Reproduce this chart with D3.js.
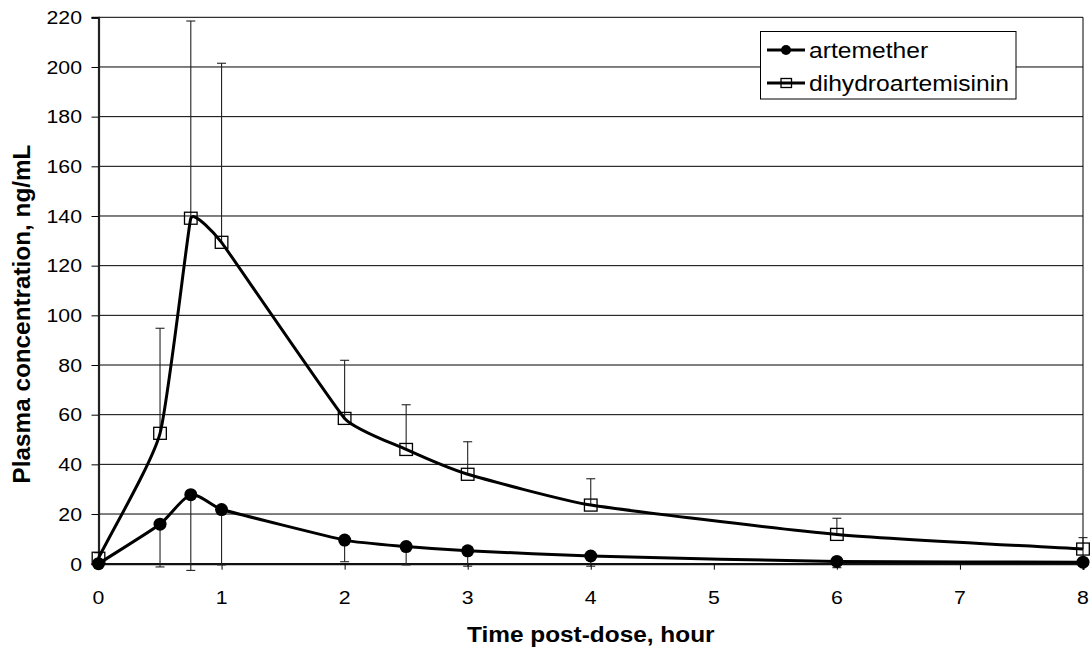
<!DOCTYPE html>
<html>
<head>
<meta charset="utf-8">
<script src="https://cdn.jsdelivr.net/npm/d3@7"></script>
<style>
  html, body { margin: 0; padding: 0; background: #fff; }
  svg { display: block; font-family: Arial, "Liberation Sans", sans-serif; }
</style>
</head>
<body>
<svg id="chart" width="1091" height="650"></svg>
<script>
const times = [0, 0.5, 0.75, 1, 2, 2.5, 3, 4, 6, 8];
const artemether = [0, 15.9, 27.8, 21.8, 9.5, 6.9, 5.2, 3.1, 0.9, 0.6];
const artemetherSD = [0, 17.2, 30.5, 22.3, 8.7, 7.4, 6.2, 4.1, 2.5, 1.5];
const dha = [2.2, 52.5, 139.1, 129.4, 58.5, 46.0, 36.0, 23.6, 11.8, 5.9];
const dhaSD = [2.2, 42.3, 79.4, 72.1, 23.4, 18.0, 13.1, 10.6, 6.5, 4.6];
const xTicks = [0, 1, 2, 3, 4, 5, 6, 7, 8];
const yTicks = [0, 20, 40, 60, 80, 100, 120, 140, 160, 180, 200, 220];
const seriesNames = ["artemether", "dihydroartemisinin"];
const xTitle = "Time post-dose, hour";
const yTitle = "Plasma concentration, ng/mL";

const svg = d3.select("#chart");
const L = 98.5, R = 1083, T = 17.3, B = 563.7;
const SX = 1.12;
const x = d3.scaleLinear().domain([0, 8]).range([L, R]);
const y = d3.scaleLinear().domain([0, 220]).range([B, T]);

// Excel-like smoothed line: tangent from neighbours, control length limited by shorter adjacent segment
const SMOOTH = 0.22;
function ExcelSmooth(context) { this._context = context; }
ExcelSmooth.prototype = {
  areaStart() {}, areaEnd() {},
  lineStart() { this._pts = []; },
  point(px, py) { this._pts.push([+px, +py]); },
  lineEnd() {
    const p = this._pts, c = this._context, n = p.length;
    if (!n) return;
    c.moveTo(p[0][0], p[0][1]);
    if (n < 3) { if (n === 2) c.lineTo(p[1][0], p[1][1]); return; }
    const seg = [];
    for (let i = 0; i < n - 1; i++) seg.push(Math.hypot(p[i + 1][0] - p[i][0], p[i + 1][1] - p[i][1]));
    const tan = p.map((pt, i) => {
      const a = p[Math.max(i - 1, 0)], b = p[Math.min(i + 1, n - 1)];
      const dx = b[0] - a[0], dy = b[1] - a[1], l = Math.hypot(dx, dy) || 1;
      const lens = [];
      if (i > 0) lens.push(seg[i - 1]);
      if (i < n - 1) lens.push(seg[i]);
      const k = Math.min(...lens) * SMOOTH;
      return [dx / l * k, dy / l * k];
    });
    for (let i = 0; i < n - 1; i++) {
      const a = p[i], b = p[i + 1];
      c.bezierCurveTo(a[0] + tan[i][0], a[1] + tan[i][1],
                      b[0] - tan[i + 1][0], b[1] - tan[i + 1][1], b[0], b[1]);
    }
  }
};
const excelCurve = ctx => new ExcelSmooth(ctx);

// gridlines
svg.append("g").selectAll("line").data(yTicks.filter(d => d > 0)).join("line")
  .attr("x1", L).attr("x2", R)
  .attr("y1", d => y(d)).attr("y2", d => y(d))
  .attr("stroke", "#000").attr("stroke-width", 1);

// right border
svg.append("line").attr("x1", R).attr("x2", R).attr("y1", T).attr("y2", B)
  .attr("stroke", "#000").attr("stroke-width", 1);

// axes
const yAxis = d3.axisLeft(y).tickValues(yTicks).tickSize(7).tickFormat("");
const gy = svg.append("g").attr("transform", `translate(${L},0)`).call(yAxis);
gy.select(".domain").attr("stroke", "#222").attr("stroke-width", 2.2);
gy.selectAll(".tick line").attr("stroke", "#000").attr("stroke-width", 1);

const xAxis = d3.axisBottom(x).tickValues(xTicks).tickSize(6).tickFormat("");
const gx = svg.append("g").attr("transform", `translate(0,${B})`).call(xAxis);
gx.select(".domain").attr("stroke", "#111").attr("stroke-width", 2.2);
gx.selectAll(".tick line").attr("stroke", "#000").attr("stroke-width", 1);

function stext(g, tx, ty, str, size, anchor, weight) {
  return g.append("text")
    .attr("transform", `translate(${tx},${ty}) scale(${SX},1)`)
    .attr("text-anchor", anchor)
    .attr("font-size", size)
    .attr("font-weight", weight || "normal")
    .attr("fill", "#000")
    .text(str);
}

// tick labels
const tl = svg.append("g");
yTicks.forEach(v => stext(tl, 82, y(v) + 6.8, String(v), 19, "end"));
xTicks.forEach(v => stext(tl, x(v), 603.5, String(v), 19, "middle"));

// axis titles
stext(svg, (L + R) / 2, 641.5, xTitle, 21.8, "middle", "bold");
svg.append("text")
  .attr("transform", `translate(30,314) rotate(-90)`)
  .attr("text-anchor", "middle").attr("font-size", 24.3).attr("font-weight", "bold")
  .text(yTitle);

// error bars
const cap = 4.5;
const eb = svg.append("g").attr("stroke", "#222").attr("stroke-width", 1.1);
times.forEach((t, i) => {
  const cx = x(t);
  const y0 = y(dha[i]), y1 = y(dha[i] + dhaSD[i]);
  eb.append("line").attr("x1", cx).attr("x2", cx).attr("y1", y0).attr("y2", y1);
  eb.append("line").attr("x1", cx - cap).attr("x2", cx + cap).attr("y1", y1).attr("y2", y1);
  if (artemetherSD[i] > 0) {
    const a0 = y(artemether[i]), a1 = y(artemether[i] - artemetherSD[i]);
    eb.append("line").attr("x1", cx).attr("x2", cx).attr("y1", a0).attr("y2", a1);
    eb.append("line").attr("x1", cx - cap).attr("x2", cx + cap).attr("y1", a1).attr("y2", a1);
  }
});

// lines
const line = d3.line().x(d => x(d[0])).y(d => y(d[1])).curve(excelCurve);
svg.append("path").datum(times.map((t, i) => [t, dha[i]]))
  .attr("d", line).attr("fill", "none").attr("stroke", "#000").attr("stroke-width", 3)
  .attr("stroke-linejoin", "round");
svg.append("path").datum(times.map((t, i) => [t, artemether[i]]))
  .attr("d", line).attr("fill", "none").attr("stroke", "#000").attr("stroke-width", 3)
  .attr("stroke-linejoin", "round");

// markers
svg.append("g").selectAll("rect").data(times.map((t, i) => [t, dha[i]])).join("rect")
  .attr("x", d => x(d[0]) - 6.3).attr("y", d => y(d[1]) - 6)
  .attr("width", 12.6).attr("height", 12)
  .attr("fill", "none").attr("stroke", "#000").attr("stroke-width", 1.3);
svg.append("g").selectAll("circle").data(times.map((t, i) => [t, artemether[i]])).join("circle")
  .attr("cx", d => x(d[0])).attr("cy", d => y(d[1])).attr("r", 6.5)
  .attr("fill", "#000");

// legend
const lg = svg.append("g");
lg.append("rect").attr("x", 760.5).attr("y", 31.5).attr("width", 255.5).attr("height", 67.5)
  .attr("fill", "#fff").attr("stroke", "#000").attr("stroke-width", 1);
const rows = [50, 83];
rows.forEach((ry, i) => {
  lg.append("line").attr("x1", 767).attr("x2", 805).attr("y1", ry).attr("y2", ry)
    .attr("stroke", "#000").attr("stroke-width", 3);
  if (i === 0) {
    lg.append("circle").attr("cx", 786).attr("cy", ry).attr("r", 5).attr("fill", "#000");
  } else {
    lg.append("rect").attr("x", 781).attr("y", ry - 4.5).attr("width", 10.5).attr("height", 9)
      .attr("fill", "none").attr("stroke", "#000").attr("stroke-width", 1.3);
  }
  stext(lg, 809, ry + 8, seriesNames[i], 22, "start");
});
</script>
</body>
</html>
